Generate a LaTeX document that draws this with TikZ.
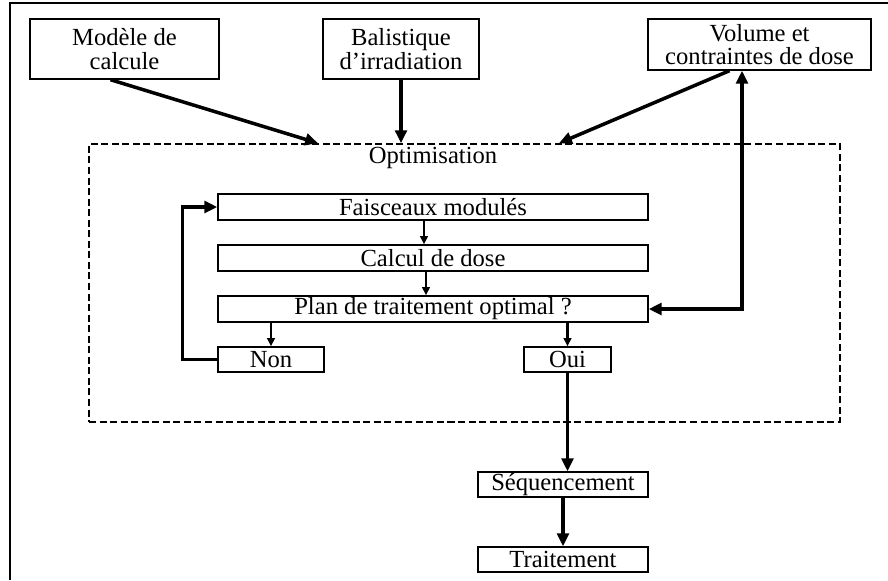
\documentclass[tikz,border=0pt]{standalone}
\usepackage{fontspec}
\setmainfont{Liberation Serif}
\usetikzlibrary{calc,arrows.meta}

\begin{document}
\begin{tikzpicture}[x=0.03cm, y=-0.03cm,
                    main node/.style={rectangle,draw,line width=1.2pt,inner sep=0pt,align=center,font=\fontsize{21}{20}\selectfont},
                    bar node/.style={main node,minimum width=12.9cm,minimum height=0.78cm},
                    small node/.style={main node,minimum height=0.75cm},
                    big arrow/.style={line width=3pt,-{Triangle[length=11pt,width=10pt]}},
                    big both/.style={line width=3pt,{Triangle[length=11pt,width=10pt]}-{Triangle[length=11pt,width=10pt]}},
                    small arrow/.style={line width=1.8pt,-{Triangle[length=7pt,width=6.5pt]}}]
  \useasboundingbox (0,0) rectangle (888,580);
  \draw[line width=1.6pt] (10,580) -- (10,3) -- (888,3);

  % entrees
  \node[main node,minimum width=5.67cm,minimum height=1.8cm] (modele) at (124.5,49) {Modèle de\\calcule};
  \node[main node,minimum width=4.68cm,minimum height=1.8cm] (balist) at (401,49) {Balistique\\d’irradiation};
  \node[main node,minimum width=6.69cm,minimum height=1.53cm] (volume) at (759.5,44.5) {Volume et\\contraintes de dose};

  % boucle d'optimisation
  \node[draw,dash pattern=on 6pt off 3pt,line width=1.4pt,minimum width=22.53cm,minimum height=8.34cm] (optim) at (464.5,283) {};
  \node[font=\fontsize{21}{20}\selectfont] (optlabel) at (433,158) {Optimisation};
  \node[bar node] (fais) at (433,207) {Faisceaux modulés};
  \node[bar node] (calc) at (433,258) {Calcul de dose};
  \node[bar node] (plan) at (433,309) {Plan de traitement optimal ?};
  \node[small node,minimum width=3.18cm] (non) at (271,359.5) {Non};
  \node[small node,minimum width=2.61cm] (oui) at (567.5,359.5) {Oui};

  % sortie
  \node[small node,minimum width=5.1cm] (seq) at (563,484.5) {Séquencement};
  \node[small node,minimum width=5.1cm] (trait) at (563,559.5) {Traitement};

  \draw[big arrow] ($(modele.south)+(-14,0)$) -- ($(optim.north)+(-146.5,0)$);
  \draw[big arrow] (balist.south) -- (balist.south |- optim.north);
  \draw[big arrow] ($(volume.south)+(-30,0)$) -- ($(optim.north)+(94.5,0)$);
  \draw[big both] ($(volume.south)+(-17.5,0)$) |- (plan.east);

  \draw[small arrow] ($(fais.south)+(-9,0)$) -- ($(calc.north)+(-9,0)$);
  \draw[small arrow] ($(calc.south)+(-7,0)$) -- ($(plan.north)+(-7,0)$);
  \draw[small arrow] (plan.south -| non.north) -- (non.north);
  \draw[small arrow] (plan.south -| oui.north) -- (oui.north);
  \draw[big arrow] (non.west) -- ++(-35,0) |- (fais.west);

  \draw[big arrow] (oui.south) -- (oui.south |- seq.north);
  \draw[big arrow] (seq.south) -- (trait.north);
\end{tikzpicture}
\end{document}
